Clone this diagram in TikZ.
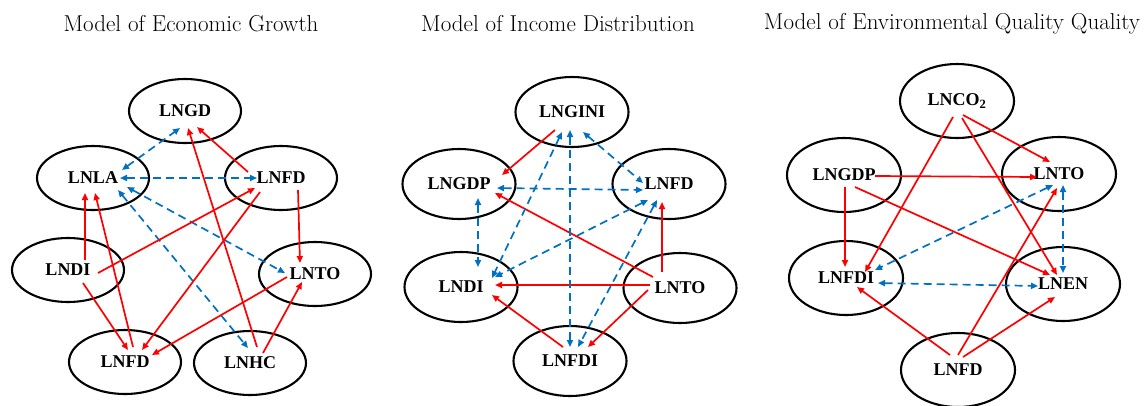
\documentclass[tikz,border=0pt]{standalone}
\usepackage{fontspec}
\newfontfamily\lblfont{Liberation Serif}
\usetikzlibrary{shapes.geometric,arrows.meta,calc}
\definecolor{cred}{RGB}{255,0,0}
\definecolor{cblue}{RGB}{0,112,192}

\begin{document}
\begin{tikzpicture}[x=1pt,y=-1pt,
  var/.style={draw, ellipse, line width=2.1pt, minimum width=112pt, minimum height=64pt, inner sep=0pt, font=\lblfont\bfseries\fontsize{18}{18}\selectfont},
  ttl/.style={font=\fontsize{23}{23}\selectfont},
  cause/.style={draw=cred, line width=1.7pt, -{Triangle[length=7pt,width=6pt]}},
  corr/.style={draw=cblue, line width=1.7pt, dash pattern=on 8pt off 5pt, {Triangle[length=7pt,width=6pt]}-{Triangle[length=7pt,width=6pt]}}]
\useasboundingbox (0,0) rectangle (1145,405);

\node[ttl] (t1) at (191,24) {Model of Economic Growth};
\node[ttl] (t2) at (558,24) {Model of Income Distribution};
\node[ttl] (t3) at (952,24) {Model of Environmental Quality Quality};

\node[var] (gd1) at (185,111) {LNGD};
\node[var] (la1) at (93,178) {LNLA};
\node[var] (fd1) at (281,178) {LNFD};
\node[var] (di1) at (68,270) {LNDI};
\node[var] (to1) at (315,274) {LNTO};
\node[var] (fdb1) at (125,362) {LNFD};
\node[var] (hc1) at (250,363) {LNHC};

\draw[corr] ($(la1)+(29,-8)$) -- ($(gd1)+(-5,17)$);
\draw[corr] ($(la1)+(27,0)$) -- ($(fd1)+(-24,0)$);
\draw[corr] ($(la1)+(34,9)$) -- ($(to1)+(-30,-1)$);
\draw[corr] ($(la1)+(25,12)$) -- ($(hc1)+(-2,-15)$);
\draw[cause] ($(fd1)+(-33,-6)$) -- ($(gd1)+(12,16)$);
\draw[cause] ($(hc1)+(7,-16)$) -- ($(gd1)+(3,17)$);
\draw[cause] ($(fd1)+(17,12)$) -- ($(to1)+(-15,-11)$);
\draw[cause] ($(di1)+(17,-10)$) -- ($(la1)+(-8,15)$);
\draw[cause] ($(fdb1)+(8,-15)$) -- ($(la1)+(2,15)$);
\draw[cause] ($(di1)+(30,3)$) -- ($(fd1)+(-26,10)$);
\draw[cause] ($(di1)+(15,13)$) -- ($(fdb1)+(3,-12)$);
\draw[cause] ($(fd1)+(-21,14)$) -- ($(fdb1)+(17,-12)$);
\draw[cause] ($(to1)+(-28,3)$) -- ($(fdb1)+(27,-7)$);
\draw[cause] ($(hc1)+(13,-10)$) -- ($(to1)+(-13,8)$);

\begin{scope}[var/.append style={minimum width=113pt, minimum height=70pt}]
\node[var] (gini2) at (572,112) {LNGINI};
\node[var] (gdp2) at (459,184) {LNGDP};
\node[var] (fd2) at (669,184) {LNFD};
\node[var] (di2) at (461,287) {LNDI};
\node[var] (to2) at (680,288) {LNTO};
\node[var] (fdi2) at (570,361) {LNFDI};
\end{scope}

\draw[cause] ($(gini2)+(-17,18)$) -- ($(gdp2)+(43,-9)$);
\draw[cause] ($(to2)+(-27,-11)$) -- ($(gdp2)+(36,9)$);
\draw[cause] ($(to2)+(-18,-16)$) -- ($(fd2)+(-7,18)$);
\draw[cause] ($(to2)+(-30,-3)$) -- ($(di2)+(34,-2)$);
\draw[cause] ($(to2)+(-32,2)$) -- ($(fdi2)+(18,-14)$);
\draw[cause] ($(fdi2)+(-7,-14)$) -- ($(di2)+(31,8)$);
\draw[corr] ($(gini2)+(11,20)$) -- ($(fd2)+(-26,-1)$);
\draw[corr] ($(gdp2)+(38,4)$) -- ($(fd2)+(-26,6)$);
\draw[corr] ($(gini2)+(-2,18)$) -- ($(fdi2)+(0,-14)$);
\draw[corr] ($(gini2)+(-10,20)$) -- ($(di2)+(31,-9)$);
\draw[corr] ($(gdp2)+(19,14)$) -- ($(di2)+(17,-20)$);
\draw[corr] ($(fd2)+(-21,16)$) -- ($(di2)+(34,-10)$);
\draw[corr] ($(fd2)+(-12,16)$) -- ($(fdi2)+(8,-14)$);

\begin{scope}[var/.append style={minimum width=114pt, minimum height=74pt}]
\node[var] (co3) at (957,101) {LNCO\textsubscript{2}};
\node[var] (gdp3) at (844,175) {LNGDP};
\node[var] (to3) at (1059,174) {LNTO};
\node[var] (fdi3) at (846,278) {LNFDI};
\node[var] (en3) at (1063,284) {LNEN};
\node[var] (fd3) at (958,370) {LNFD};
\end{scope}

\draw[cause] ($(co3)+(6,14)$) -- ($(to3)+(-9,-12)$);
\draw[cause] ($(co3)+(-4,16)$) -- ($(fdi3)+(19,-6)$);
\draw[cause] ($(co3)+(5,17)$) -- ($(en3)+(-6,-9)$);
\draw[cause] ($(gdp3)+(31,1)$) -- ($(to3)+(-22,3)$);
\draw[cause] ($(gdp3)+(1,12)$) -- ($(fdi3)+(-1,-11)$);
\draw[cause] ($(gdp3)+(11,12)$) -- ($(en3)+(-13,-9)$);
\draw[cause] ($(fd3)+(-8,-15)$) -- ($(fdi3)+(11,9)$);
\draw[cause] ($(fd3)+(0,-15)$) -- ($(to3)+(-2,14)$);
\draw[cause] ($(fd3)+(5,-13)$) -- ($(en3)+(-8,13)$);
\draw[corr] ($(to3)+(-6,11)$) -- ($(fdi3)+(29,-8)$);
\draw[corr] ($(to3)+(4,11)$) -- ($(en3)+(0,-11)$);
\draw[corr] ($(fdi3)+(32,5)$) -- ($(en3)+(-25,2)$);
\end{tikzpicture}
\end{document}
